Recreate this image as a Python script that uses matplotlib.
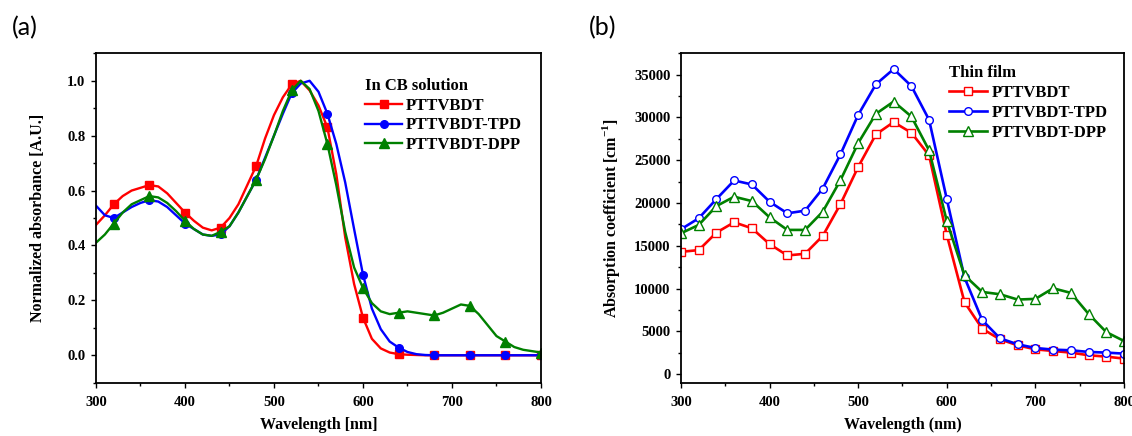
import numpy as np
import matplotlib
matplotlib.use("Agg")
import matplotlib.pyplot as plt
from matplotlib.ticker import MultipleLocator

# ---------------- data: panel (a) normalized absorbance, CB solution ----------------
wl_a = list(range(300, 801, 10))
red_a = [0.475, 0.51, 0.55, 0.58, 0.60, 0.61, 0.62, 0.615, 0.59, 0.555,
         0.52, 0.49, 0.465, 0.455, 0.465, 0.50, 0.55, 0.62, 0.69, 0.79,
         0.875, 0.94, 0.987, 1.0, 0.965, 0.91, 0.83, 0.66, 0.43, 0.26,
         0.137, 0.06, 0.025, 0.01, 0.004, 0.002, 0.001, 0.0, 0.0, 0.0,
         0.0, 0.0, 0.0, 0.0, 0.0, 0.0, 0.0, 0.0, 0.0, 0.0, 0.0]
blue_a = [0.545, 0.51, 0.50, 0.52, 0.54, 0.555, 0.565, 0.56, 0.54, 0.51,
          0.48, 0.46, 0.44, 0.435, 0.44, 0.47, 0.52, 0.58, 0.64, 0.72,
          0.80, 0.88, 0.955, 0.99, 1.0, 0.96, 0.88, 0.77, 0.63, 0.46,
          0.294, 0.17, 0.095, 0.05, 0.028, 0.012, 0.004, 0.001, 0.0, 0.0,
          0.0, 0.0, 0.0, 0.0, 0.0, 0.0, 0.0, 0.0, 0.0, 0.0, 0.0]
green_a = [0.41, 0.44, 0.48, 0.52, 0.55, 0.565, 0.58, 0.575, 0.555, 0.525,
           0.49, 0.46, 0.44, 0.435, 0.45, 0.47, 0.52, 0.58, 0.64, 0.715,
           0.80, 0.89, 0.965, 1.0, 0.97, 0.89, 0.77, 0.62, 0.45, 0.32,
           0.245, 0.19, 0.16, 0.15, 0.155, 0.16, 0.155, 0.15, 0.145, 0.155,
           0.17, 0.185, 0.18, 0.15, 0.11, 0.07, 0.05, 0.03, 0.02, 0.015, 0.01]

# ---------------- data: panel (b) absorption coefficient, thin film ----------------
wl_b = list(range(300, 801, 20))
red_b = [14300, 14500, 16550, 17750, 17050, 15200, 13875, 14070, 16160, 19880,
         24225, 28025, 29460, 28220, 25580, 16280, 8410, 5310, 4070, 3370,
         2900, 2710, 2520, 2210, 2050, 1820]
blue_b = [16940, 18220, 20470, 22640, 22170, 20150, 18800, 19110, 21700, 25700,
          30310, 33880, 35660, 33680, 29730, 20470, 11300, 6320, 4190, 3490,
          3060, 2870, 2790, 2600, 2520, 2400]
green_b = [16470, 17440, 19650, 20740, 20230, 18330, 16860, 16860, 18990, 22670,
           27010, 30430, 31860, 30120, 26160, 17900, 11550, 9610, 9340, 8720,
           8800, 10040, 9500, 7050, 4920, 3880]

series_names = ["PTTVBDT", "PTTVBDT-TPD", "PTTVBDT-DPP"]
colors = ["#ff0000", "#0000ff", "#008000"]
markers = ["s", "o", "^"]

plt.rcParams["font.family"] = ["Liberation Serif", "DejaVu Serif"]
plt.rcParams["font.weight"] = "bold"
plt.rcParams["mathtext.fontset"] = "custom"
plt.rcParams["mathtext.rm"] = "Liberation Serif:bold"
plt.rcParams["mathtext.bf"] = "Liberation Serif:bold"

fig = plt.figure(figsize=(11.32, 4.36), dpi=100)
axA = fig.add_axes([0.0848, 0.1222, 0.3931, 0.7555])
axB = fig.add_axes([0.6016, 0.1222, 0.3913, 0.7555])

# panel a
for ys, c, m, n in zip([red_a, blue_a, green_a], colors, markers, series_names):
    axA.plot(wl_a, ys, color=c, lw=1.7, marker=m, ms=5.5 if m != "^" else 6.5,
             markevery=slice(2, None, 4), label=n, clip_on=True)
# panel b
for ys, c, m, n in zip([red_b, blue_b, green_b], colors, markers, series_names):
    axB.plot(wl_b, ys, color=c, lw=1.9, marker=m, ms=5.5 if m != "^" else 6.5,
             mfc="white", mec=c, mew=1.0, label=n)

axA.set_xlim(300, 800)
axA.set_ylim(-0.1, 1.1)
axA.xaxis.set_major_locator(MultipleLocator(100))
axA.xaxis.set_minor_locator(MultipleLocator(50))
axA.yaxis.set_major_locator(MultipleLocator(0.2))
axA.yaxis.set_minor_locator(MultipleLocator(0.1))
axA.yaxis.set_major_formatter(matplotlib.ticker.FormatStrFormatter("%.1f"))

axB.set_xlim(300, 800)
axB.set_ylim(-1000, 37500)
axB.xaxis.set_major_locator(MultipleLocator(100))
axB.xaxis.set_minor_locator(MultipleLocator(50))
axB.yaxis.set_major_locator(MultipleLocator(5000))
axB.yaxis.set_minor_locator(MultipleLocator(2500))

for ax in (axA, axB):
    for s in ax.spines.values():
        s.set_linewidth(1.3)
    ax.tick_params(which="major", direction="out", length=3.6, width=1.0,
                   labelsize=10.5)
    ax.tick_params(which="minor", direction="out", length=2.0, width=1.0)
    ax.tick_params(axis="x", which="major", pad=6)
    ax.tick_params(axis="y", which="major", pad=4)
    for lab in ax.get_xticklabels() + ax.get_yticklabels():
        lab.set_fontweight("bold")

axA.set_xlabel("Wavelength [nm]", fontsize=11.5, fontweight="bold")
axA.set_ylabel("Normalized absorbance [A.U.]", fontsize=11.5, fontweight="bold")
axB.set_xlabel("Wavelength (nm)", fontsize=11.5, fontweight="bold")
axB.set_ylabel(r"Absorption coefficient [cm$^{\mathbf{-1}}$]", fontsize=11.5,
               fontweight="bold")
axA.xaxis.set_label_coords(0.5, -0.105)
axB.xaxis.set_label_coords(0.5, -0.105)
axA.yaxis.set_label_coords(-0.112, 0.5)
axB.yaxis.set_label_coords(-0.133, 0.5)

legA = axA.legend(title="In CB solution", loc="upper left",
                  bbox_to_anchor=(0.605, 0.925), frameon=False, borderpad=0,
                  borderaxespad=0, handlelength=2.2, handletextpad=0.25,
                  labelspacing=0.22, alignment="left",
                  prop={"size": 12, "weight": "bold"},
                  title_fontproperties={"size": 12, "weight": "bold"})
legB = axB.legend(title="Thin film", loc="upper left",
                  bbox_to_anchor=(0.605, 0.966), frameon=False, borderpad=0,
                  borderaxespad=0, handlelength=2.3, handletextpad=0.25,
                  labelspacing=0.25, alignment="left",
                  prop={"size": 12, "weight": "bold"},
                  title_fontproperties={"size": 12, "weight": "bold"})

fig.text(25 / 1132, 1 - 28 / 436, "(a)", fontsize=18, family=["Lato", "DejaVu Sans"],
         fontweight="normal", ha="center", va="center")
fig.text(603 / 1132, 1 - 28 / 436, "(b)", fontsize=18, family=["Lato", "DejaVu Sans"],
         fontweight="normal", ha="center", va="center")

fig.savefig("out.png", dpi=100)
